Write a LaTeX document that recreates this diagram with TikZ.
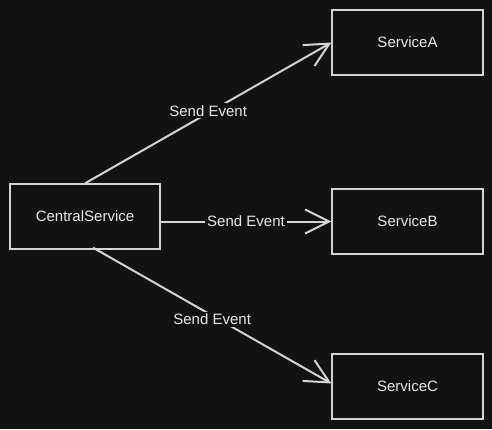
\documentclass[tikz,border=0pt]{standalone}
\usepackage{fontspec}
\setmainfont{Liberation Sans}
\usepackage{xcolor}
\usetikzlibrary{positioning, arrows.meta}
\definecolor{evbg}{RGB}{18, 18, 18}
\definecolor{evline}{RGB}{212, 212, 212}
\definecolor{evtext}{RGB}{232, 232, 232}
\tikzset{
    svcnode/.style={rectangle, draw=evline, line width=1.3pt, minimum width=151pt, minimum height=65pt, text=evtext, font=\fontsize{15}{18}\selectfont},
    sendarrow/.style={draw=evline, line width=2pt, -{Straight Barb[length=24pt, width=24pt]}},
    sendlabel/.style={fill=evbg, text=evtext, inner sep=2pt, font=\fontsize{15}{18}\selectfont}
}
\begin{document}
\begin{tikzpicture}[x=1pt, y=-1pt]
    \fill[evbg] (0,0) rectangle (492,429);
    \useasboundingbox (0,0) rectangle (492,429);
    \node[svcnode, minimum width=150pt] (central) at (85,216.5) {CentralService};
    \node[svcnode] (svca) at (407.5,42.5) {ServiceA};
    \node[svcnode] (svcb) at (407.5,221.5) {ServiceB};
    \node[svcnode] (svcc) at (407.5,386.5) {ServiceC};
    \draw[sendarrow] (central.north) -- node[sendlabel, yshift=2pt] {Send Event} (svca.west);
    \draw[sendarrow] (central.east |- svcb.west) -- node[sendlabel] {Send Event} (svcb.west);
    \draw[sendarrow] ([xshift=8pt, yshift=2pt]central.south) -- node[sendlabel, yshift=-4pt] {Send Event} ([yshift=3pt]svcc.west);
\end{tikzpicture}
\end{document}
